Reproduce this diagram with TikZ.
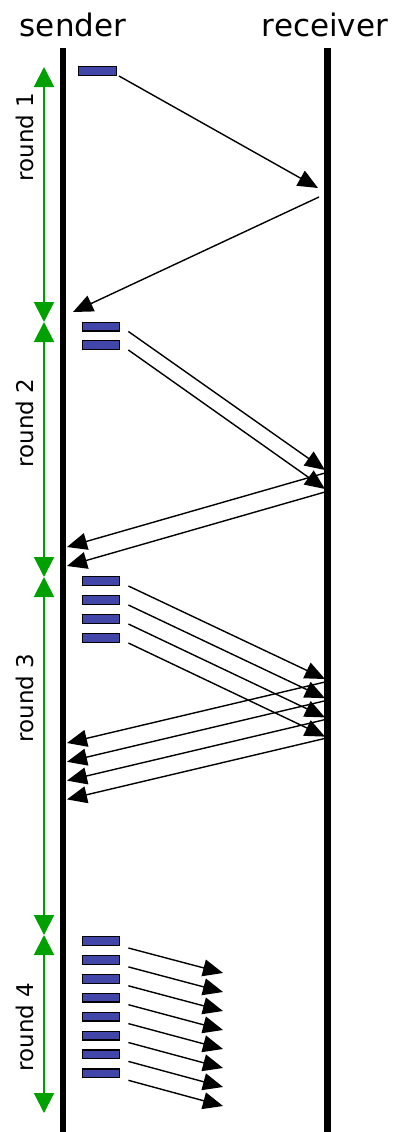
\documentclass[tikz,border=0pt]{standalone}
\usepackage{fontspec}
\setmainfont{DejaVu Sans}
\usetikzlibrary{arrows.meta}
\definecolor{pktblue}{RGB}{66,70,168}
\definecolor{rndgreen}{RGB}{0,160,0}
\begin{document}
\begin{tikzpicture}[x=1pt,y=-1pt,
  lifeline/.style={line width=6.5pt},
  packet/.style={draw=black, fill=pktblue, line width=1.3pt,
    minimum width=37.5pt, minimum height=8.7pt, inner sep=0pt},
  msg/.style={line width=1.4pt, -{Triangle[length=20pt,width=17pt]}},
  rnd/.style={rndgreen, line width=2pt,
    {Triangle[length=20pt,width=20pt]}-{Triangle[length=20pt,width=20pt]}},
  rndlabel/.style={rotate=90, anchor=base, inner sep=0pt,
    font=\fontsize{23}{27}\selectfont},
  title/.style={anchor=base, inner sep=0pt, font=\fontsize{31}{36}\selectfont}
]
\useasboundingbox (0,0) rectangle (396,1132);

% party names
\node[title] (snd) at (73,37) {sender};
\node[title] (rcv) at (325,37) {receiver};

% lifelines
\coordinate (stop) at (63,48);   \coordinate (sbot) at (63,1132);
\coordinate (rtop) at (327.5,48); \coordinate (rbot) at (327.5,1132);
\draw[lifeline] (stop) -- (sbot);
\draw[lifeline] (rtop) -- (rbot);

% round markers
\coordinate (g0) at (44,67);
\coordinate (g1) at (44,322);
\coordinate (g2) at (44,577);
\coordinate (g3) at (44,935);
\coordinate (g4) at (44,1113);
\draw[rnd] (g0) -- (g1);
\draw[rnd] (g1) -- (g2);
\draw[rnd] (g2) -- (g3);
\draw[rnd] (g3) -- (g4);
\node[rndlabel] (l1) at (33,137) {round 1};
\node[rndlabel] (l2) at (33,423) {round 2};
\node[rndlabel] (l3) at (33,698) {round 3};
\node[rndlabel] (l4) at (33,1027) {round 4};

% round 1: one segment and its ack
\node[packet, minimum width=37.7pt] (p11) at (97.5,71) {};
\coordinate (d11) at (318,188);
\coordinate (a11s) at (319,197);
\coordinate (a11e) at (73,312);
\draw[msg] ([xshift=2pt]p11.south east) -- (d11);
\draw[msg] (a11s) -- (a11e);

% round 2: two segments
\foreach \i/\y in {1/326.5, 2/345} {
  \node[packet] (p2\i) at (101,\y) {};
  \coordinate (d2\i) at (325,{470+19*(\i-1)});
  \coordinate (a2\i s) at (325,{473+19*(\i-1)});
  \coordinate (a2\i e) at (67,{547+19*(\i-1)});
  \draw[msg] ([xshift=8pt]p2\i.south east) -- (d2\i);
  \draw[msg] (a2\i s) -- (a2\i e);
}

% round 3: four segments
\foreach \i in {1,...,4} {
  \node[packet] (p3\i) at (101,{581+19*(\i-1)}) {};
  \coordinate (d3\i) at (325,{679+19.2*(\i-1)});
  \coordinate (a3\i s) at (325,{682+18.8*(\i-1)});
  \coordinate (a3\i e) at (67,{743+18.8*(\i-1)});
  \draw[msg] ([xshift=8pt]p3\i.south east) -- (d3\i);
  \draw[msg] (a3\i s) -- (a3\i e);
}

% round 4: eight segments
\foreach \i in {1,...,8} {
  \node[packet] (p4\i) at (101,{941+18.9*(\i-1)}) {};
  \coordinate (d4\i) at (223,{973+19*(\i-1)});
  \draw[msg] ([xshift=8pt,yshift=-2pt]p4\i.south east) -- (d4\i);
}
\end{tikzpicture}
\end{document}
